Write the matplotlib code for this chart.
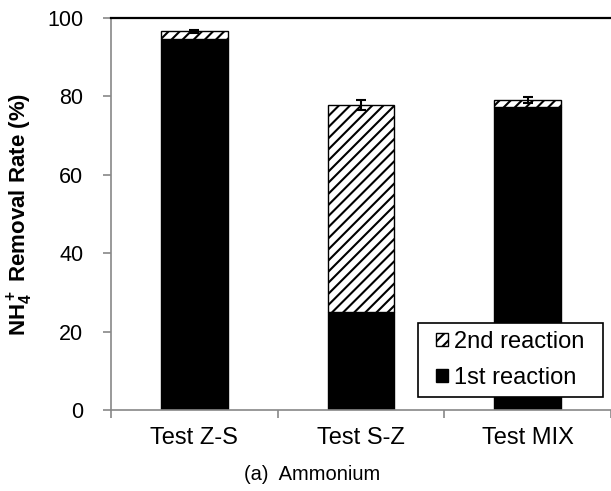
import numpy as np
import matplotlib
matplotlib.use("Agg")
import matplotlib.pyplot as plt
from matplotlib.patches import Rectangle

plt.rcParams['font.family'] = ['Liberation Sans', 'DejaVu Sans']
plt.rcParams['mathtext.fontset'] = 'custom'
plt.rcParams['mathtext.rm'] = 'Liberation Sans'
plt.rcParams['mathtext.bf'] = 'Liberation Sans:bold'
plt.rcParams['hatch.linewidth'] = 1.5

tests = ["Test Z-S", "Test S-Z", "Test MIX"]
first = [94.6, 24.9, 77.4]
second = [2.0, 52.9, 1.7]
err = [0.3, 1.3, 0.8]

fig = plt.figure(figsize=(6.11, 4.91), dpi=100)
ax = fig.add_axes([0.1817, 0.165, 0.8183, 0.7983])

x = np.arange(len(tests))
total = np.array(first) + np.array(second)
b1 = ax.bar(x, first, width=0.4, color='black', edgecolor='black', linewidth=1, label='1st reaction')
b2 = ax.bar(x, second, width=0.4, bottom=first, color='white', edgecolor='black',
            hatch='///', linewidth=1, label='2nd reaction')
ax.errorbar(x, total, yerr=err, fmt='none', ecolor='black', elinewidth=1.5, capsize=3.5, capthick=1.5)

ax.set_xlim(-0.5, 2.476)
ax.set_ylim(0, 100)
ax.set_yticks([0, 20, 40, 60, 80, 100])
ax.set_xticks(x)
ax.set_xticklabels(tests)
ax.set_xticks([-0.5, 0.5, 1.5, 2.5], minor=True)
ax.tick_params(axis='x', which='major', length=0, labelsize=17, pad=12)
ax.tick_params(axis='x', which='minor', length=6, color='#888888', width=1.2, direction='out')
ax.tick_params(axis='y', length=6, color='#888888', width=1.2, labelsize=15.5, pad=14)

for s in ['left', 'bottom']:
    ax.spines[s].set_color('#888888')
    ax.spines[s].set_linewidth(1.2)
ax.spines['top'].set_color('black')
ax.spines['top'].set_linewidth(1.6)
ax.spines['right'].set_visible(False)

ax.set_ylabel(r'$\mathbf{NH_4^+}$ Removal Rate (%)', fontsize=16, fontweight='bold', labelpad=9)

# legend box
x0, x1 = (418 - 111) / 500, (603 - 111) / 500
y0, y1 = (410 - 397) / 392, (410 - 323) / 392
ax.add_patch(Rectangle((x0, y0), x1 - x0, y1 - y0, transform=ax.transAxes,
                       facecolor='white', edgecolor='black', linewidth=1.2, zorder=4))
leg = ax.legend(handles=[b2, b1], loc='center', bbox_to_anchor=((x0 + x1) / 2, (y0 + y1) / 2),
                borderaxespad=0, fontsize=17, frameon=False,
                handlelength=0.5, handleheight=0.5, handletextpad=0.25,
                borderpad=0, labelspacing=0.58)
leg.set_zorder(5)

fig.text(312 / 611, 1 - 475 / 491, '(a)  Ammonium', ha='center', va='center', fontsize=14.5)

fig.savefig('out.png', dpi=100)
